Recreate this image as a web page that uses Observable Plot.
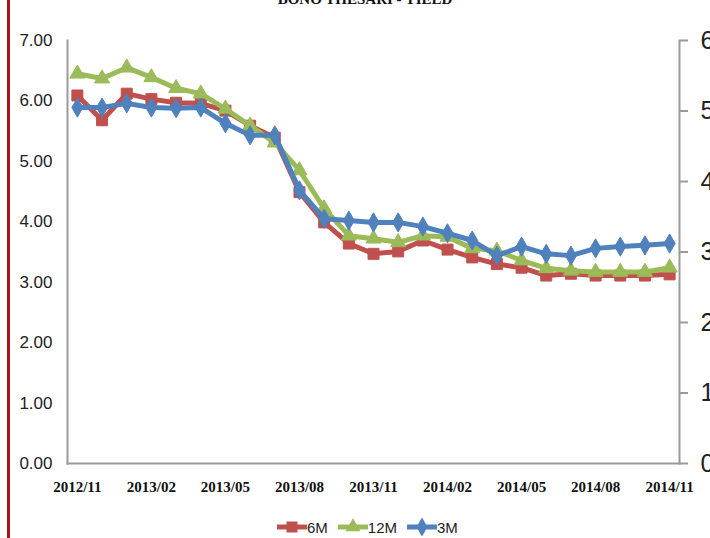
<!DOCTYPE html>
<html>
<head>
<meta charset="utf-8">
<script src="https://cdn.jsdelivr.net/npm/d3@7"></script>
<script src="https://cdn.jsdelivr.net/npm/@observablehq/plot@0.6"></script>
<style>
  html, body { margin: 0; padding: 0; background: #fff; }
  #wrap { position: relative; width: 710px; height: 538px; overflow: hidden; background: #fff; }
  #redbar { position: absolute; left: 7px; top: 0; width: 3px; height: 538px; background: #A8141B; }
  #title { position: absolute; top: -8px; left: 0; width: 730px; text-align: center;
           font-family: "Liberation Serif", serif; font-weight: bold; font-size: 15px; line-height: 15px; color: #111; }
  #chart { position: absolute; left: 0; top: 0; }
  #legend { position: absolute; top: 518px; left: 277px; display: flex; align-items: center;
            font-family: "Liberation Sans Narrow", "Liberation Sans", sans-serif; font-size: 15px; color: #222; }
  #legend .item { display: flex; align-items: center; margin-right: 10px; }
  #legend svg { display: block; }
</style>
</head>
<body>
<div id="wrap">
  <div id="title">BONO THESARI - YIELD</div>
  <div id="chart"></div>
  <div id="redbar"></div>
  <div id="legend"></div>
</div>
<script>
// ---- data ----
const months = ["2012/11","2012/12","2013/01","2013/02","2013/03","2013/04","2013/05","2013/06","2013/07",
  "2013/08","2013/09","2013/10","2013/11","2013/12","2014/01","2014/02","2014/03","2014/04","2014/05",
  "2014/06","2014/07","2014/08","2014/09","2014/10","2014/11"];
const tickLabels = ["2012/11","2013/02","2013/05","2013/08","2013/11","2014/02","2014/05","2014/08","2014/11"];
const seriesNames = ["6M", "12M", "3M"];
const yield6M  = [6.09,5.68,6.12,6.03,5.97,5.96,5.84,5.59,5.39,4.49,3.99,3.64,3.47,3.51,3.69,3.54,3.41,3.30,3.24,3.11,3.14,3.11,3.11,3.11,3.13];
const yield12M = [6.45,6.37,6.55,6.39,6.21,6.12,5.87,5.59,5.31,4.85,4.22,3.77,3.72,3.66,3.77,3.75,3.56,3.52,3.36,3.23,3.19,3.17,3.17,3.17,3.24];
const yield3M  = [5.89,5.89,5.96,5.89,5.88,5.89,5.63,5.43,5.43,4.52,4.05,4.02,3.99,3.99,3.92,3.81,3.69,3.44,3.59,3.47,3.44,3.56,3.59,3.61,3.64];
const leftTicks = [0,1,2,3,4,5,6,7];
const rightTicks = [0,1,2,3,4,5,6];

// ---- styles ----
const colors = {"6M": "#C0504D", "12M": "#9BBB59", "3M": "#4F81BD"};
const symbols = {"6M": "square", "12M": "triangle", "3M": "diamond"};
const radii = {"6M": 6.2, "12M": 5.6, "3M": 5.8};
const axisGray = "#9a9a9a";

const leftMax = leftTicks[leftTicks.length - 1];
const rightMax = rightTicks[rightTicks.length - 1];

const rows = months.map((m, i) => ({month: m, "6M": yield6M[i], "12M": yield12M[i], "3M": yield3M[i]}));

const seriesMarks = seriesNames.flatMap(s => [
  Plot.line(rows, {x: "month", y: s, stroke: colors[s], strokeWidth: 5, strokeLinejoin: "round"}),
  Plot.dot(rows, {x: "month", y: s, symbol: symbols[s], fill: colors[s], stroke: colors[s], strokeWidth: 1, r: radii[s]})
]);

const chart = Plot.plot({
  width: 710,
  height: 510,
  marginLeft: 67,
  marginRight: 31,
  marginTop: 40,
  marginBottom: 47,
  style: {background: "transparent", fontFamily: "'Liberation Sans Narrow', 'Liberation Sans', sans-serif"},
  x: {type: "point", domain: months, padding: 0.4, round: false, label: null},
  y: {domain: [0, leftMax], label: null},
  marks: [
    Plot.frame({anchor: "left", stroke: axisGray, strokeWidth: 2}),
    Plot.frame({anchor: "right", stroke: axisGray, strokeWidth: 2}),
    Plot.frame({anchor: "bottom", stroke: axisGray, strokeWidth: 2}),
    Plot.axisY({anchor: "left", ticks: leftTicks, tickFormat: d3.format(".2f"), tickSize: 0, tickPadding: 15,
      fontSize: 17, label: null, color: "#222"}),
    Plot.axisY({anchor: "right", ticks: rightTicks.map(v => v * leftMax / rightMax),
      tickFormat: d => String(Math.round(d * rightMax / leftMax)), tickSize: 8, tickPadding: 13,
      fontSize: 25, label: null, stroke: axisGray, strokeWidth: 2, color: "#222"}),
    Plot.axisX({anchor: "bottom", ticks: tickLabels, tickSize: 0, tickPadding: 18, fontSize: 15,
      fontWeight: "bold", fontFamily: "'Liberation Serif', serif", label: null, color: "#111"}),
    ...seriesMarks
  ]
});
document.getElementById("chart").appendChild(chart);

// ---- legend ----
const legend = document.getElementById("legend");
seriesNames.forEach(s => {
  const item = document.createElement("div");
  item.className = "item";
  const w = 30, h = 18;
  const sw = d3.create("svg").attr("width", w).attr("height", h);
  sw.append("line").attr("x1", 0).attr("x2", w).attr("y1", h/2).attr("y2", h/2)
    .attr("stroke", colors[s]).attr("stroke-width", 5);
  const symType = {square: d3.symbolSquare, triangle: d3.symbolTriangle, diamond: d3.symbolDiamond}[symbols[s]];
  sw.append("path").attr("d", d3.symbol(symType, Math.PI * radii[s] * radii[s])())
    .attr("transform", `translate(${w/2},${h/2})`).attr("fill", colors[s]);
  item.appendChild(sw.node());
  const t = document.createElement("span");
  t.textContent = s;
  item.appendChild(t);
  legend.appendChild(item);
});
</script>
</body>
</html>
